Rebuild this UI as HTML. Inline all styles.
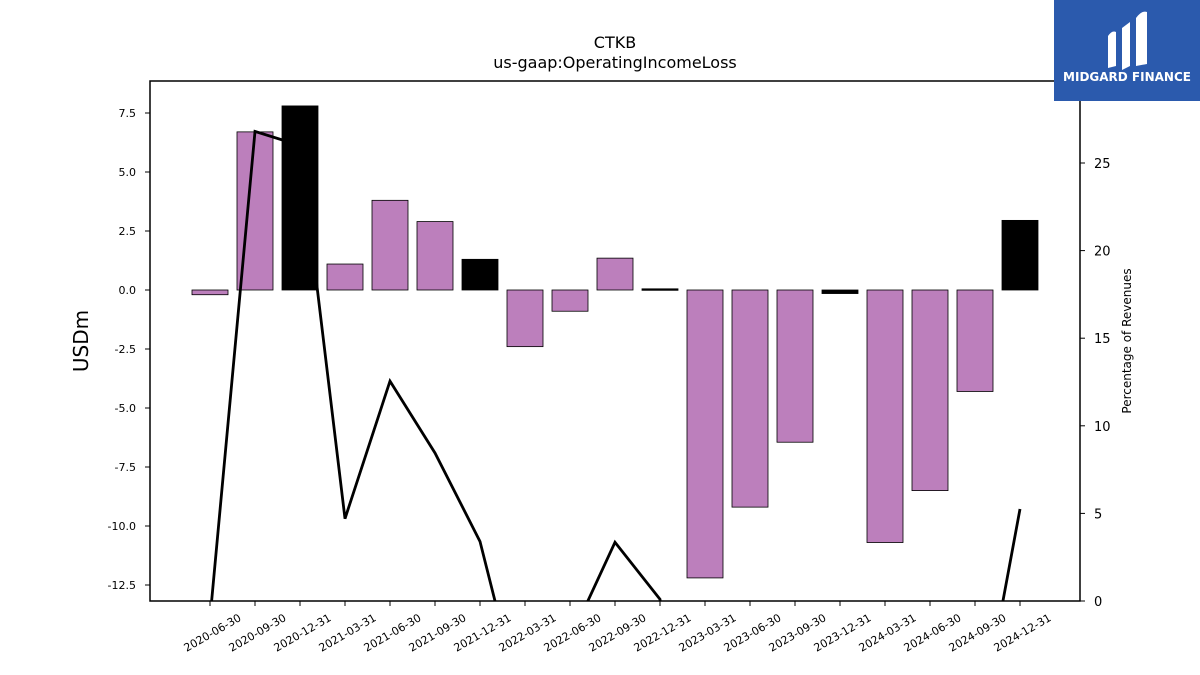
<!DOCTYPE html>
<html><head><meta charset="utf-8"><style>
html,body{margin:0;padding:0;width:1200px;height:675px;overflow:hidden;background:#fff;font-family:"Liberation Sans","DejaVu Sans",sans-serif;}
svg{display:block;}
svg text{font-family:"DejaVu Sans","Liberation Sans",sans-serif;}
</style></head><body>
<svg id="chart" width="1200" height="675" viewBox="0 0 1200 675" xmlns="http://www.w3.org/2000/svg">
<rect width="1200" height="675" fill="#fff"/>
<text x="615" y="48" font-size="16" text-anchor="middle">CTKB</text>
<text x="615" y="68" font-size="16" text-anchor="middle">us-gaap:OperatingIncomeLoss</text>
<defs><clipPath id="pc"><rect x="150" y="81" width="930" height="520"/></clipPath></defs>
<g id="bars" clip-path="url(#pc)"></g>
<g id="line" clip-path="url(#pc)"></g>
<rect x="150" y="81" width="930" height="520" fill="none" stroke="#000" stroke-width="1.5"/>
<g id="axes"></g>
<text transform="translate(88,341) rotate(-90)" font-size="20" text-anchor="middle">USDm</text>
<text transform="translate(1131,341) rotate(-90)" font-size="12" text-anchor="middle">Percentage of Revenues</text>
<g>
<rect x="1054" y="0" width="146" height="101" fill="#2b5aad"/>
<path d="M1108 68 L1108 36 Q1112 30 1116 32 L1116 66 Z M1122 70 L1122 28 L1130 22 L1130 66 Z M1136 66 L1136 18 Q1142 10 1147 12 L1147 64 Z" fill="#fff"/>
<text x="1127" y="81" font-size="12" font-weight="bold" fill="#fff" text-anchor="middle" font-family="Liberation Sans">MIDGARD FINANCE</text>
</g>
</svg>
<script>
const categories=["2020-06-30","2020-09-30","2020-12-31","2021-03-31","2021-06-30","2021-09-30","2021-12-31","2022-03-31","2022-06-30","2022-09-30","2022-12-31","2023-03-31","2023-06-30","2023-09-30","2023-12-31","2024-03-31","2024-06-30","2024-09-30","2024-12-31"];
const values=[-0.2,6.7,7.8,1.1,3.8,2.9,1.3,-2.4,-0.9,1.35,0.05,-12.2,-9.2,-6.45,-0.15,-10.7,-8.5,-4.3,2.95];
const annual=[false,false,true,false,false,false,true,false,false,false,true,false,false,false,true,false,false,false,true];
const pct=[-1,26.8,26,4.7,12.55,8.45,3.4,-6.8,-2.2,3.35,0.1,-30,-30,-30,-30,-30,-30,-8.6,5.25];
const leftTicks=[7.5,5.0,2.5,0.0,-2.5,-5.0,-7.5,-10.0,-12.5];
const rightTicks=[0,5,10,15,20,25];
const NS="http://www.w3.org/2000/svg";
const yL=v=>290-v*23.6;
const yR=v=>601-v*17.52;
const xC=i=>210+i*45;
function mk(t,a,p){const e=document.createElementNS(NS,t);for(const k in a)e.setAttribute(k,a[k]);p.appendChild(e);return e;}
const bars=document.getElementById('bars'),line=document.getElementById('line'),axes=document.getElementById('axes');
values.forEach((v,i)=>{
 const y0=Math.min(yL(v),yL(0)),h=Math.max(Math.abs(yL(v)-yL(0)),1.5);
 const r=mk('rect',{x:xC(i)-18,y:y0,width:36,height:h,fill:annual[i]?'#000':'#bc7fbc',stroke:'#000','stroke-width':0.8},bars);
 
 
});
const pl=mk('polyline',{points:pct.map((p,i)=>xC(i)+','+yR(p)).join(' '),fill:'none',stroke:'#000','stroke-width':2.8},line);


leftTicks.forEach(t=>{
 mk('line',{x1:145,x2:150,y1:yL(t),y2:yL(t),stroke:'#000'},axes);
 const tx=mk('text',{x:136,y:yL(t)+4,'font-size':11,'text-anchor':'end'},axes);
 tx.textContent=t.toFixed(1);
 
 
});
rightTicks.forEach(t=>{
 mk('line',{x1:1080,x2:1085,y1:yR(t),y2:yR(t),stroke:'#000'},axes);
 const tx=mk('text',{x:1094,y:yR(t)+5,'font-size':13},axes);
 tx.textContent=t;
 
 
});
categories.forEach((c,i)=>{
 mk('line',{x1:xC(i),x2:xC(i),y1:601,y2:606,stroke:'#000'},axes);
 const tx=mk('text',{transform:`translate(${xC(i)+32},${620}) rotate(-30)`,'font-size':11,'text-anchor':'end'},axes);
 tx.textContent=c;
 
 
});
</script>
</body></html>
